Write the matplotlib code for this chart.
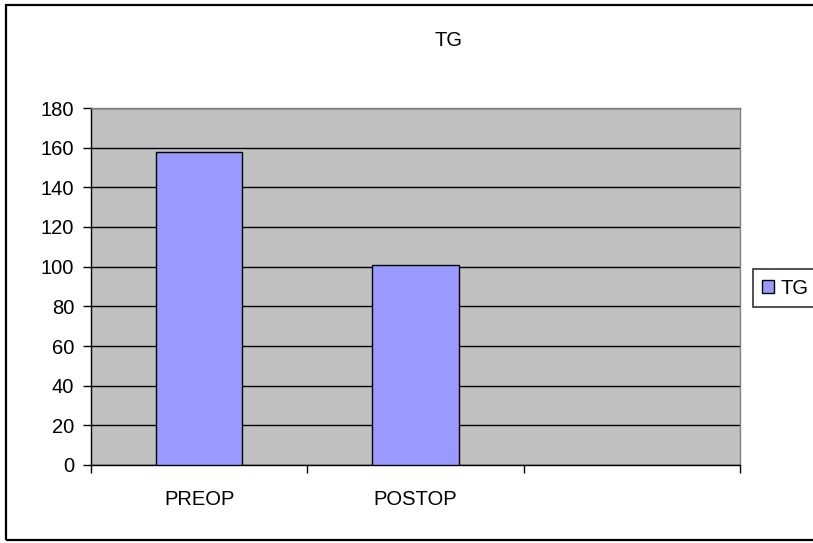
import matplotlib
matplotlib.use("Agg")
import matplotlib.pyplot as plt
from matplotlib.patches import Rectangle, Patch
import numpy as np

plt.rcParams['font.family'] = ['Liberation Sans', 'DejaVu Sans']

title = "TG"
series_name = "TG"
categories = ["PREOP", "POSTOP", ""]
values = [158, 101]
y_ticks = [0, 20, 40, 60, 80, 100, 120, 140, 160, 180]

FS = 14.5
W, H = 813, 543
fig = plt.figure(figsize=(W / 100, H / 100), dpi=100)

# outer chart frame
fig.patches.append(Rectangle((6 / W, 1 - 540 / H), (830 - 6) / W, (540 - 5) / H,
                             transform=fig.transFigure, fill=False,
                             edgecolor='black', linewidth=1.6, zorder=0))

ax = fig.add_axes([91 / W, 1 - 465 / H, (740 - 91) / W, (465 - 108) / H])
ax.set_facecolor('#C0C0C0')

x = np.arange(len(categories))
ax.bar(x[:len(values)], values, width=0.4, color='#9999FF',
       edgecolor='black', linewidth=1.0, zorder=3)

ax.set_xlim(-0.5, len(categories) - 0.5)
ax.set_ylim(0, 180)
ax.set_yticks(y_ticks)
ax.yaxis.grid(True, color='black', linewidth=1.0, zorder=1)
ax.set_axisbelow(True)

ax.set_xticks(x)
ax.set_xticklabels(categories)
ax.tick_params(axis='x', which='major', length=0, pad=18, labelsize=FS)
ax.set_xticks(np.arange(-0.5, len(categories)), minor=True)
ax.tick_params(axis='x', which='minor', length=6, width=1.0, direction='out')
ax.tick_params(axis='y', length=6, width=1.0, direction='out', pad=6, labelsize=FS)

for side in ('top', 'right'):
    ax.spines[side].set_color('#808080')
    ax.spines[side].set_linewidth(1.0)
for side in ('left', 'bottom'):
    ax.spines[side].set_color('black')
    ax.spines[side].set_linewidth(1.0)

fig.text(448 / W, 1 - 40 / H, title, ha='center', va='center', fontsize=FS)

handle = Patch(facecolor='#9999FF', edgecolor='black', linewidth=1.0)
leg = fig.legend([handle], [series_name], loc='center left',
                 bbox_to_anchor=(753 / W, 1 - 288 / H), fontsize=FS,
                 frameon=True, fancybox=False, edgecolor='black',
                 handlelength=0.6, handleheight=0.6, handletextpad=0.3,
                 borderpad=0.45, borderaxespad=0)
leg.get_frame().set_linewidth(1.2)

fig.savefig('out.png', dpi=100)
